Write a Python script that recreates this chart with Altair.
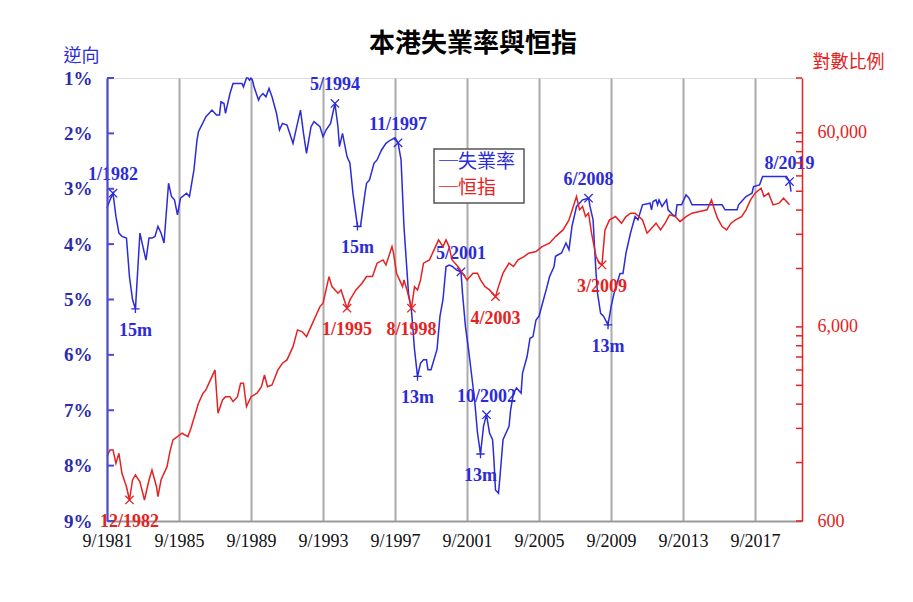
import altair as alt
import pandas as pd

# ---------------- data ----------------
unemp_dates = [
    "1981-09", "1981-11", "1982-01", "1982-03", "1982-05", "1982-07", "1982-10", "1982-12",
    "1983-02", "1983-04", "1983-07", "1983-09", "1983-11", "1984-01", "1984-03", "1984-05",
    "1984-07", "1984-09", "1984-11", "1985-02", "1985-04", "1985-06", "1985-08", "1985-10",
    "1986-02", "1986-04", "1986-07", "1986-09", "1986-10", "1987-03", "1987-05", "1987-07",
    "1987-10", "1987-12", "1988-01", "1988-03", "1988-04", "1988-07", "1988-09", "1988-11",
    "1989-03", "1989-04", "1989-06", "1989-07", "1989-08", "1989-09", "1989-10", "1989-11",
    "1990-02", "1990-03", "1990-05", "1990-07", "1990-09", "1990-11", "1991-02", "1991-04",
    "1991-06", "1991-09", "1992-01", "1992-03", "1992-06", "1992-08", "1992-10", "1993-01",
    "1993-03", "1993-07", "1993-09", "1993-11", "1994-02", "1994-05", "1994-07", "1994-08",
    "1994-10", "1995-01", "1995-03", "1995-05", "1995-08", "1995-10", "1996-01", "1996-02",
    "1996-04", "1996-07", "1996-09", "1996-12", "1997-03", "1997-06", "1997-09", "1997-11",
    "1998-01", "1998-03", "1998-06", "1998-08", "1998-10", "1998-12", "1999-02", "1999-04",
    "1999-06", "1999-07", "1999-09", "2000-01", "2000-03", "2000-05", "2000-07", "2000-09",
    "2000-11", "2001-02", "2001-05", "2001-06", "2001-08", "2001-10", "2002-02", "2002-04",
    "2002-06", "2002-08", "2002-10", "2002-12", "2003-02", "2003-03", "2003-04", "2003-06",
    "2003-07", "2003-09", "2004-01", "2004-02", "2004-04", "2004-06", "2004-09", "2004-10",
    "2005-01", "2005-03", "2005-05", "2005-07", "2005-09", "2005-12", "2006-02", "2006-04",
    "2006-07", "2006-08", "2006-12", "2007-03", "2007-05", "2007-07", "2007-10", "2007-12",
    "2008-02", "2008-06", "2008-07", "2008-09", "2008-10", "2008-11", "2008-12", "2009-02",
    "2009-04", "2009-07", "2009-09", "2009-11", "2010-03", "2010-05", "2010-07", "2010-10",
    "2011-01", "2011-03", "2011-06", "2011-11", "2011-12", "2012-01", "2012-03", "2012-04",
    "2012-05", "2012-07", "2012-10", "2012-11", "2013-02", "2013-04", "2013-05", "2013-08",
    "2013-11", "2014-01", "2014-03", "2015-11", "2016-01", "2016-09", "2016-10", "2017-01",
    "2017-03", "2017-05", "2017-07", "2017-08", "2017-12", "2018-02", "2019-06", "2019-08",
    "2019-09",
]
unemp_values = [
    3.35, 3.2, 3.08, 3.5, 3.8, 3.86, 3.89, 4.59,
    5.0, 5.17, 3.8, 4.05, 4.29, 3.89, 3.89, 3.86,
    3.68, 3.8, 3.98, 2.9, 3.14, 3.2, 3.47, 3.17,
    3.08, 3.14, 2.66, 2.12, 1.97, 1.7, 1.64, 1.58,
    1.67, 1.67, 1.43, 1.46, 1.64, 1.28, 1.1, 1.1,
    1.1, 1.16, 1.0, 1.0, 1.04, 1.0, 1.04, 1.16,
    1.4, 1.34, 1.28, 1.34, 1.19, 1.34, 1.64, 1.94,
    1.82, 1.85, 2.18, 1.94, 1.58, 2.0, 2.36, 1.88,
    1.79, 1.88, 2.06, 1.94, 1.82, 1.46, 1.88, 2.24,
    2.0, 2.42, 2.54, 3.08, 3.68, 3.68, 3.08, 2.9,
    2.84, 2.54, 2.48, 2.3, 2.18, 2.12, 2.08, 2.17,
    2.48, 3.68, 4.89, 5.2, 5.9, 6.39, 6.15, 6.09,
    6.09, 6.27, 6.27, 5.9, 5.3, 5.0, 4.41, 4.38,
    4.4, 4.47, 4.5, 4.89, 5.5, 5.9, 6.81, 7.41,
    7.79, 7.29, 7.08, 7.41, 7.53, 7.9, 8.44, 8.5,
    8.2, 7.53, 7.29, 7.0, 6.69, 6.6, 6.69, 6.33,
    6.03, 5.7, 5.67, 5.37, 5.3, 5.0, 4.8, 4.59,
    4.41, 4.22, 4.16, 3.98, 4.1, 3.68, 3.32, 3.26,
    3.2, 3.17, 3.32, 3.56, 4.05, 4.53, 4.89, 5.25,
    5.3, 5.46, 5.13, 4.89, 4.53, 4.53, 4.16, 3.8,
    3.5, 3.56, 3.29, 3.26, 3.38, 3.23, 3.2, 3.29,
    3.2, 3.32, 3.2, 3.38, 3.47, 3.5, 3.29, 3.29,
    3.11, 3.17, 3.29, 3.29, 3.38, 3.38, 3.29, 3.2,
    3.14, 3.11, 3.08, 2.96, 2.93, 2.78, 2.78, 2.87,
    3.05,
]

hsi_dates = [
    "1981-09", "1981-11", "1982-01", "1982-03", "1982-05", "1982-07", "1982-10", "1982-12",
    "1983-02", "1983-04", "1983-07", "1983-10", "1984-01", "1984-03", "1984-06", "1984-07",
    "1984-09", "1985-01", "1985-03", "1985-05", "1985-08", "1985-11", "1986-03", "1986-05",
    "1986-08", "1986-10", "1987-01", "1987-03", "1987-06", "1987-09", "1987-11", "1988-02",
    "1988-04", "1988-07", "1988-09", "1988-12", "1989-02", "1989-04", "1989-06", "1989-09",
    "1990-01", "1990-04", "1990-06", "1990-08", "1990-11", "1991-03", "1991-06", "1991-09",
    "1992-01", "1992-04", "1992-07", "1992-10", "1993-02", "1993-05", "1993-07", "1993-09",
    "1993-11", "1994-01", "1994-03", "1994-07", "1994-09", "1995-01", "1995-03", "1995-07",
    "1995-11", "1996-02", "1996-06", "1996-09", "1997-01", "1997-03", "1997-07", "1997-08",
    "1997-10", "1997-12", "1998-02", "1998-03", "1998-05", "1998-08", "1998-10", "1998-12",
    "1999-02", "1999-04", "1999-08", "1999-11", "2000-02", "2000-05", "2000-07", "2000-09",
    "2000-11", "2001-03", "2001-06", "2001-09", "2002-01", "2002-04", "2002-06", "2002-09",
    "2002-12", "2003-04", "2003-06", "2003-09", "2004-01", "2004-04", "2004-07", "2004-11",
    "2005-02", "2005-07", "2005-11", "2006-04", "2006-08", "2007-01", "2007-05", "2007-10",
    "2007-12", "2008-02", "2008-04", "2008-06", "2008-08", "2008-11", "2009-01", "2009-03",
    "2009-04", "2009-05", "2009-08", "2009-12", "2010-04", "2010-07", "2010-10", "2011-01",
    "2011-06", "2011-09", "2011-11", "2012-03", "2012-06", "2012-09", "2012-12", "2013-04",
    "2013-07", "2013-11", "2014-03", "2014-08", "2015-01", "2015-04", "2015-06", "2015-08",
    "2015-11", "2016-02", "2016-05", "2016-08", "2016-12", "2017-03", "2017-06", "2017-09",
    "2018-01", "2018-03", "2018-06", "2018-09", "2019-01", "2019-04", "2019-06", "2019-08",
]
hsi_values = [
    1287, 1394, 1394, 1190, 1340, 1057, 901, 770,
    976, 1036, 956, 770, 976, 1099, 901, 801,
    976, 1143, 1366, 1570, 1632, 1699, 1632, 1803,
    2155, 2427, 2731, 2841, 3199, 3602, 2155, 2523,
    2623, 2623, 2473, 2623, 3076, 3076, 2330, 2623,
    2731, 2954, 3393, 2954, 3014, 3602, 3900, 4057,
    4748, 5790, 5675, 5348, 6272, 7061, 7634, 7950,
    9306, 10900, 9678, 8952, 9306, 7493, 8268, 9306,
    10080, 10900, 10900, 12780, 13290, 12520, 15560, 14390,
    11350, 10480, 9678, 10480, 9306, 7493, 9678, 9306,
    10480, 12780, 13290, 14970, 16850, 15560, 16850, 15560,
    13290, 12280, 11350, 10480, 11350, 11350, 10480, 9678,
    9306, 8597, 9678, 11350, 12780, 12280, 13290, 13820,
    14390, 14670, 15560, 16200, 17520, 18970, 21360, 28180,
    24070, 25020, 22220, 23140, 18250, 13820, 12780, 12520,
    15560, 18970, 21360, 22220, 20540, 22220, 23140, 23140,
    21360, 18250, 18970, 20540, 18970, 20540, 22670, 22220,
    20930, 22220, 23140, 23580, 24070, 27090, 24070, 21800,
    19730, 18970, 20540, 21360, 22220, 24070, 27090, 29340,
    31120, 28180, 29340, 25530, 26050, 27640, 26550, 25530,
]

# annotated unemployment peaks (x markers, labels above)
peak_labels = ["1/1982", "5/1994", "11/1997", "5/2001", "10/2002", "6/2008", "8/2019"]
peak_dates = ["1982-01", "1994-05", "1997-11", "2001-05", "2002-10", "2008-06", "2019-08"]
peak_values = [3.08, 1.46, 2.17, 4.5, 7.08, 3.17, 2.87]

# annotated unemployment troughs (+ markers, labels below)
low_labels = ["15m", "15m", "13m", "13m", "13m"]
low_dates = ["1983-04", "1995-08", "1998-12", "2002-06", "2009-07"]
low_values = [5.17, 3.68, 6.39, 7.79, 5.46]

# annotated Hang Seng lows (x markers, labels below)
hsi_ann_labels = ["12/1982", "1/1995", "8/1998", "4/2003", "3/2009"]
hsi_ann_dates = ["1982-12", "1995-01", "1998-08", "2003-04", "2009-03"]
hsi_ann_values = [770, 7493, 7493, 8597, 12520]

pct_ticks = [1, 2, 3, 4, 5, 6, 7, 8, 9]
hsi_major_ticks = [600, 6000, 60000]
hsi_minor_ticks = [1200, 1800, 2400, 3000, 3600, 4200, 4800, 5400,
                   12000, 18000, 24000, 30000, 36000, 42000, 48000, 54000, 115000]
x_tick_years = [1981, 1985, 1989, 1993, 1997, 2001, 2005, 2009, 2013, 2017]

chart_title = "本港失業率與恒指"
legend_labels = ["─失業率", "─恒指"]

# ---------------- styling ----------------
BLUE = "#2b2bd8"
BLUE_AXIS = "#4b4bd6"
BLUE_LABEL = "#2c2caa"
RED = "#e52222"
SERIF = "Liberation Serif"
CJK = "Noto Sans CJK TC"
W, H = 695, 443

unemp_df = pd.DataFrame({"date": unemp_dates, "v": unemp_values})
hsi_df = pd.DataFrame({"date": hsi_dates, "v": hsi_values})
peak_df = pd.DataFrame({"date": peak_dates, "v": peak_values, "label": peak_labels})
low_df = pd.DataFrame({"date": low_dates, "v": low_values, "label": low_labels})
hsi_ann_df = pd.DataFrame({"date": hsi_ann_dates, "v": hsi_ann_values, "label": hsi_ann_labels})
pct_df = pd.DataFrame({"v": pct_ticks})
hsi_tick_df = pd.DataFrame({"v": hsi_major_ticks + hsi_minor_ticks})
dummy = pd.DataFrame({"a": [0]})

x_scale = alt.Scale(domain=[alt.DateTime(year=1981, month=9, date=1),
                            alt.DateTime(year=2020, month=4, date=10)])
x_axis = alt.Axis(
    values=[alt.DateTime(year=y, month=9, date=1) for y in x_tick_years],
    labelExpr="timeFormat(datum.value, '%-m/%Y')",
    ticks=False, domainColor="#9a9a9a", domainWidth=2,
    grid=True, gridColor="#ababab", gridWidth=2,
    labelFont=SERIF, labelFontSize=18, labelColor="#111111",
    labelPadding=11, labelFlush=False, labelOverlap=False, title=None,
)
X = alt.X("date:T", scale=x_scale, axis=x_axis)

left_scale = alt.Scale(domain=[1, 9], reverse=True)
left_axis = alt.Axis(
    orient="left", values=pct_ticks, labelExpr="datum.value + '%'",
    ticks=False, domainColor=BLUE_AXIS, domainWidth=2, grid=False,
    labelColor=BLUE_LABEL, labelFont=SERIF, labelFontSize=19, labelFontWeight="bold",
    labelPadding=15,
    title="逆向", titleAngle=0, titleX=-26, titleY=-22, titleAlign="center",
    titleBaseline="middle", titleFont=CJK, titleFontSize=18, titleFontWeight="normal",
    titleColor=BLUE, zindex=1,
)
YL = alt.Y("v:Q", scale=left_scale, axis=left_axis)

right_scale = alt.Scale(type="log", domain=[600, 115000])
right_axis = alt.Axis(
    orient="right", values=hsi_major_ticks, format=",",
    ticks=False, domainColor=RED, domainWidth=1.5, grid=False,
    labelColor=RED, labelFont=SERIF, labelFontSize=18, labelPadding=15,
    title="對數比例", titleAngle=0, titleX=46, titleY=-16, titleAlign="center",
    titleBaseline="middle", titleFont=CJK, titleFontSize=18, titleFontWeight="normal",
    titleColor=RED, zindex=1,
)
YR = alt.Y("v:Q", scale=right_scale, axis=right_axis)

X_PATH = "M-1,-1L1,1M-1,1L1,-1"
PLUS_PATH = "M-1,0L1,0M0,-1L0,1"
ANN_SIZE = 18

# ---------------- left (unemployment) group ----------------
blue_line = alt.Chart(unemp_df).mark_line(color=BLUE, strokeWidth=1.5).encode(x=X, y=YL)
blue_peak_pts = alt.Chart(peak_df).mark_point(
    shape=X_PATH, size=70, filled=False, color=BLUE, strokeWidth=1.3, opacity=1
).encode(x=X, y=YL)
blue_peak_txt = alt.Chart(peak_df).mark_text(
    font=SERIF, fontSize=ANN_SIZE, fontWeight="bold", color=BLUE, dy=-18, baseline="middle"
).encode(x=X, y=YL, text="label:N")
blue_low_pts = alt.Chart(low_df).mark_point(
    shape=PLUS_PATH, size=70, filled=False, color=BLUE, strokeWidth=1.3, opacity=1
).encode(x=X, y=YL)
blue_low_txt = alt.Chart(low_df).mark_text(
    font=SERIF, fontSize=ANN_SIZE, fontWeight="bold", color=BLUE, dy=22, baseline="middle"
).encode(x=X, y=YL, text="label:N")
left_ticks = alt.Chart(pct_df).mark_rule(color=BLUE_AXIS, strokeWidth=2).encode(
    y=YL, x=alt.value(0), x2=alt.value(7)
)
left = alt.layer(left_ticks, blue_line, blue_peak_pts, blue_peak_txt, blue_low_pts, blue_low_txt)

# ---------------- right (Hang Seng) group ----------------
red_line = alt.Chart(hsi_df).mark_line(color=RED, strokeWidth=1.5).encode(x=X, y=YR)
red_pts = alt.Chart(hsi_ann_df).mark_point(
    shape=X_PATH, size=70, filled=False, color=RED, strokeWidth=1.3, opacity=1
).encode(x=X, y=YR)
red_txt = alt.Chart(hsi_ann_df).mark_text(
    font=SERIF, fontSize=ANN_SIZE, fontWeight="bold", color=RED, dy=22, baseline="middle"
).encode(x=X, y=YR, text="label:N")
right_ticks = alt.Chart(hsi_tick_df).mark_rule(color=RED, strokeWidth=1.5).encode(
    y=YR, x=alt.value(W - 6), x2=alt.value(W)
)
right = alt.layer(right_ticks, red_line, red_pts, red_txt)

# ---------------- legend box and title ----------------
legend_box = alt.Chart(dummy).mark_rect(
    fill="white", stroke="#555555", strokeWidth=1.5
).encode(x=alt.value(327), x2=alt.value(417), y=alt.value(71), y2=alt.value(125))
legend_t1 = alt.Chart(dummy).mark_text(
    font=CJK, fontSize=19, color=BLUE, align="left", baseline="middle"
).encode(x=alt.value(332), y=alt.value(84), text=alt.value(legend_labels[0]))
legend_t2 = alt.Chart(dummy).mark_text(
    font=CJK, fontSize=19, color=RED, align="left", baseline="middle"
).encode(x=alt.value(332), y=alt.value(110), text=alt.value(legend_labels[1]))
title_txt = alt.Chart(dummy).mark_text(
    font=CJK, fontSize=26, fontWeight="bold", color="black", align="center", baseline="middle"
).encode(x=alt.value(366), y=alt.value(-34), text=alt.value(chart_title))

chart = alt.layer(
    left, right, legend_box, legend_t1, legend_t2, title_txt
).resolve_scale(y="independent").properties(
    width=W, height=H,
    autosize="none",
    padding={"left": 99, "top": 70, "right": 103, "bottom": 73},
).configure_view(stroke=None).configure(background="white")

chart.save("out.html", embed_options={"renderer": "svg", "actions": False})
